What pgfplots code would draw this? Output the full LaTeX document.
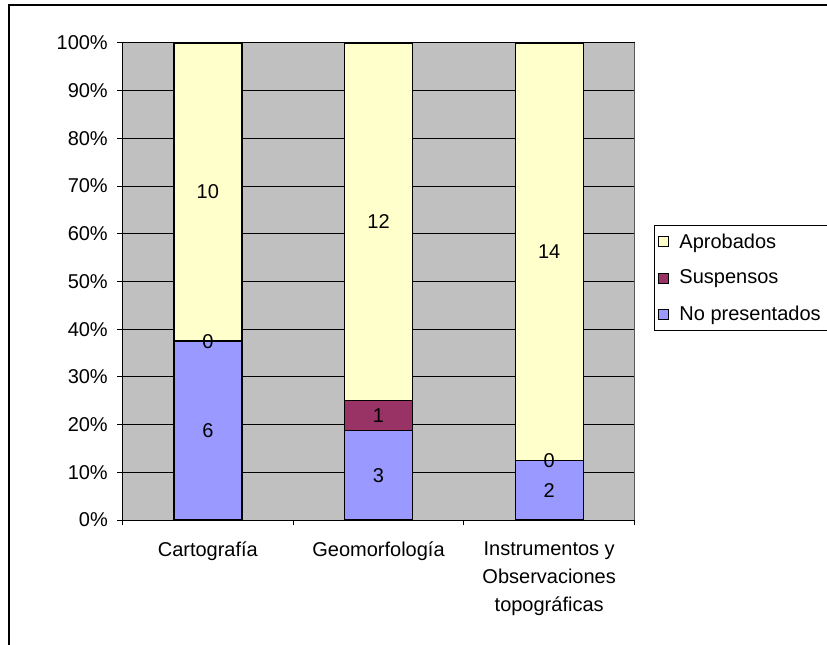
\documentclass[border=0pt]{standalone}
\usepackage{pgfplots}
\pgfplotsset{compat=1.18}
\usepackage{fontspec}
\setmainfont{Liberation Sans}
\definecolor{aprob}{HTML}{FFFFCC}
\definecolor{susp}{HTML}{993366}
\definecolor{nopres}{HTML}{9999FF}
\definecolor{plotbg}{HTML}{C0C0C0}
\newcommand{\chartfont}{\fontsize{15}{18}\selectfont}
\begin{document}
\begin{tikzpicture}[font=\chartfont]
\useasboundingbox (0,0) rectangle (620.25pt,483pt);
\clip (0,0) rectangle (620.25pt,483pt);
\fill[white] (0,0) rectangle (620.25pt,483pt);
\draw[line width=1.5pt] (6.75pt,-10pt) -- (6.75pt,479.25pt) -- (640pt,479.25pt);
\begin{axis}[
  at={(91.875pt,93pt)}, anchor=south west,
  scale only axis, width=384pt, height=357.75pt,
  ybar stacked, bar width=51pt,
  xmin=-0.5, xmax=2.5, ymin=0, ymax=100,
  axis background/.style={fill=plotbg},
  axis x line*=bottom, axis y line*=left,
  axis line style={black, line width=0.75pt},
  ymajorgrids, major grid style={black, line width=0.75pt},
  tick style={black, line width=0.75pt},
  tick align=outside, major tick length=3.75pt,
  ytick={0,10,20,30,40,50,60,70,80,90,100},
  yticklabels={0\%,10\%,20\%,30\%,40\%,50\%,60\%,70\%,80\%,90\%,100\%},
  yticklabel style={xshift=-3.75pt},
  xtick={-0.5,0.5,1.5,2.5}, xticklabels={},
  extra x ticks={0,1,2},
  extra x tick labels={Cartografía, Geomorfología, {Instrumentos y\\Observaciones\\topográficas}},
  extra x tick style={major tick length=0pt, xticklabel style={align=center, font=\fontsize{15}{21}\selectfont, yshift=-12.5pt}},
  tick label style={font=\chartfont},
  reverse legend,
  legend cell align=left,
  legend style={at={(1.038,0.6184)}, anchor=north west, draw=black, line width=0.75pt, fill=white, font=\chartfont, row sep=11pt, inner xsep=3pt, inner ysep=4pt,
    nodes={inner xsep=7.5pt}},
  legend image code/.code={\draw[#1,draw=black,line width=0.75pt] (2pt,-3.75pt) rectangle (9.5pt,3.75pt);},
  after end axis/.code={\draw[gray!70!black, line width=0.75pt] (rel axis cs:1,0) -- (rel axis cs:1,1);},
]
\addplot[fill=nopres, draw=black, line width=1pt] coordinates {(0,37.5) (1,18.75) (2,12.5)};
\addplot[fill=susp, draw=black, line width=1pt] coordinates {(0,0) (1,6.25) (2,0)};
\addplot[fill=aprob, draw=black, line width=1pt] coordinates {(0,62.5) (1,75) (2,87.5)};
\legend{No presentados, Suspensos, Aprobados}
\end{axis}
\begin{axis}[
  at={(91.875pt,93pt)}, anchor=south west,
  scale only axis, width=384pt, height=357.75pt,
  xmin=-0.5, xmax=2.5, ymin=0, ymax=100, hide axis,
]
\addplot[draw=none, mark=none, nodes near coords, point meta=explicit symbolic,
  every node near coord/.append style={anchor=center, font=\chartfont, black}]
  coordinates {(0,18.75)[6] (0,37.5)[0] (0,68.75)[10] (1,9.375)[3] (1,21.875)[1] (1,62.5)[12] (2,6.25)[2] (2,12.5)[0] (2,56.25)[14]};
\end{axis}
\end{tikzpicture}
\end{document}
